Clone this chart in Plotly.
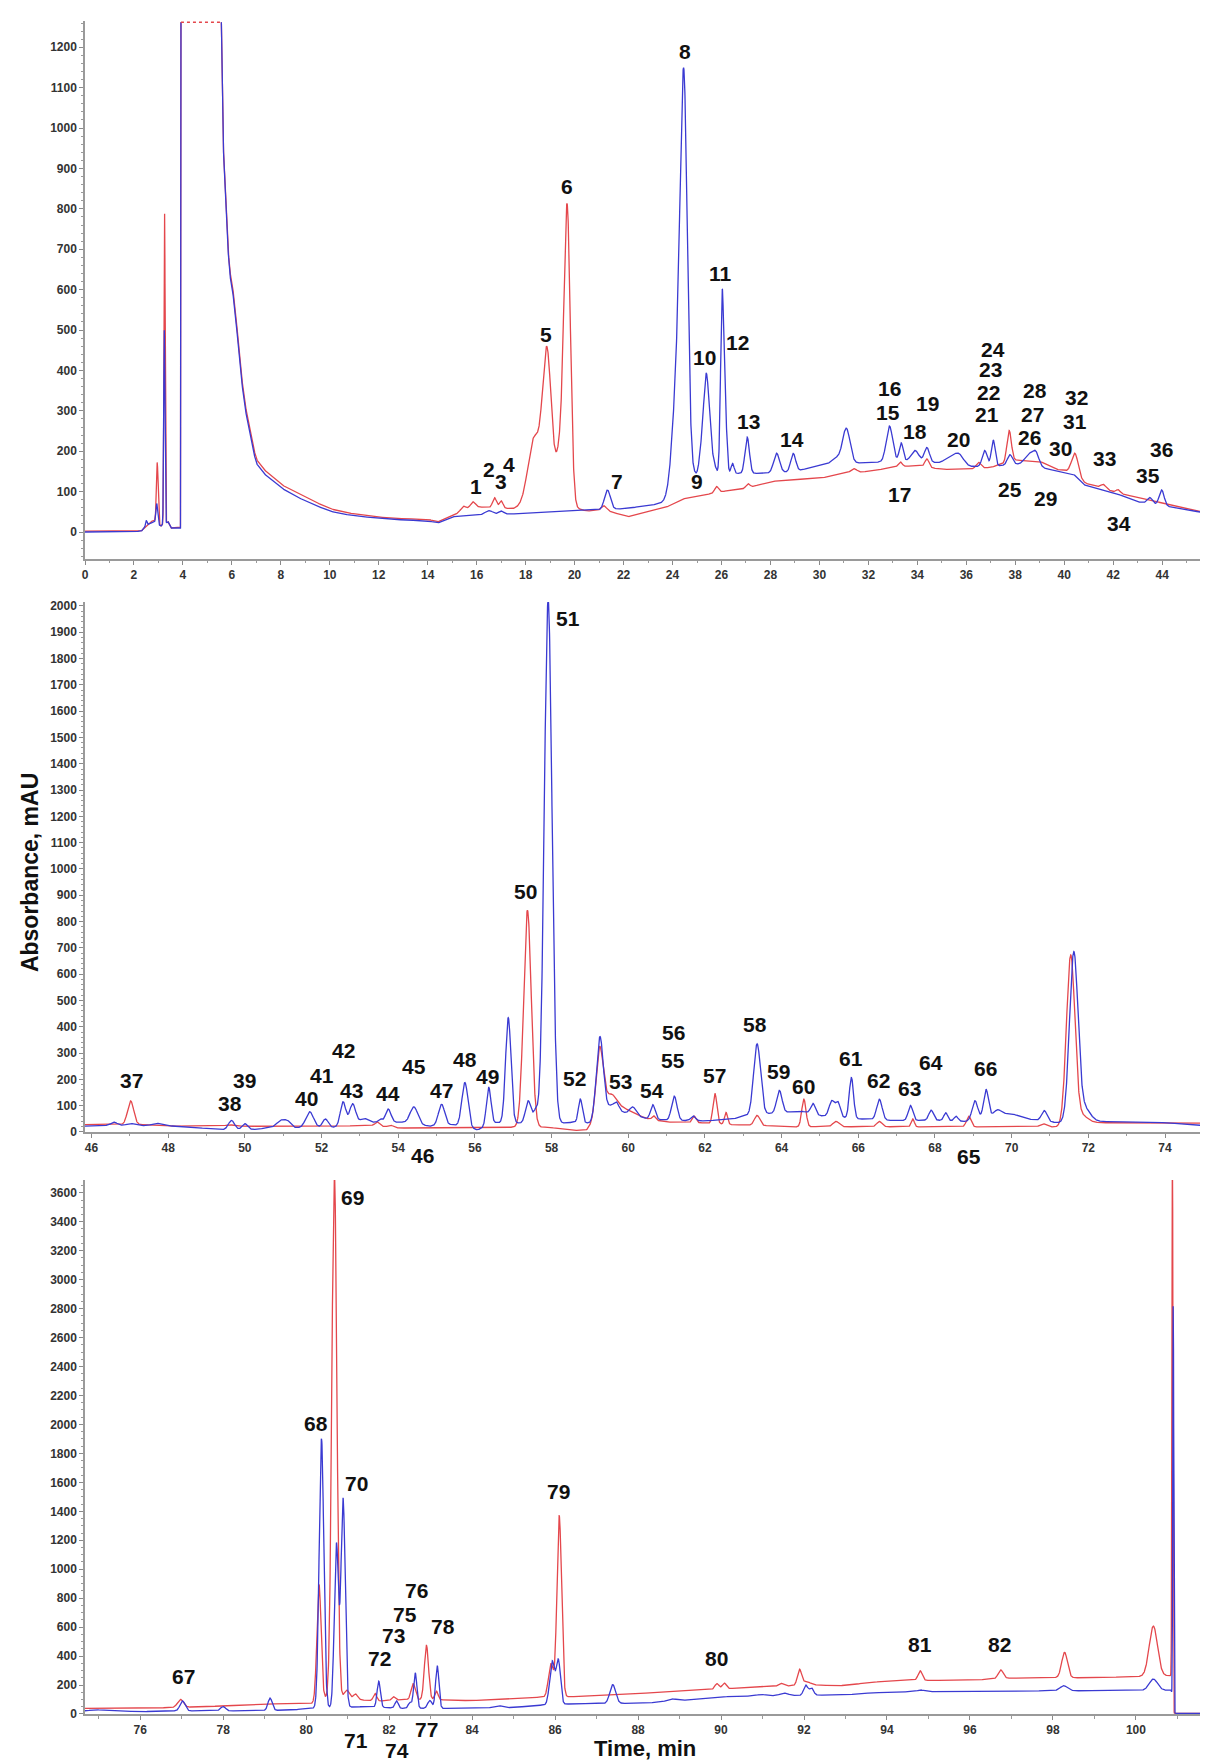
import numpy as np
import plotly.graph_objects as go

RED = "#e4474c"
BLUE = "#3a3ad2"
FONT = "Liberation Sans"

# ---------------- Panel 1 (0-46 min) ----------------
BLUE_BASE_1 = [(0, 0), (2.3, 2), (2.6, 20), (2.8, 25), (3.1, 15), (3.4, 25), (3.5, 10), (3.9, 10),
               (3.92, 1262), (5.57, 1262), (5.62, 1000), (5.75, 800), (5.9, 640), (6.0, 610), (6.15, 540),
               (6.3, 430), (6.5, 320), (6.8, 220), (7.0, 170), (7.3, 145), (7.7, 125), (8.0, 110),
               (8.5, 92), (9.0, 77), (9.5, 64), (10.0, 52), (10.5, 45), (11, 40), (12, 34), (13, 30),
               (14, 28), (14.4, 22), (15, 38), (16, 42), (17.5, 45), (19, 50), (20, 52), (21, 55),
               (22, 58), (23, 65), (23.6, 72), (24.0, 80), (24.9, 140), (26.5, 145), (27.5, 145),
               (28, 146), (29, 150), (30, 165), (31, 170), (32, 172), (33, 175), (34, 177), (35, 170),
               (36, 162), (37, 162), (38, 168), (39, 160), (40, 148), (40.4, 142), (40.8, 117),
               (41.3, 108), (42, 98), (43, 75), (44, 66), (45, 55), (46.3, 42)]
BLUE_PEAKS_1 = [(2.5, 15, 0.03), (2.93, 50, 0.035), (3.24, 480, 0.025), (16.5, 10, 0.15), (17.0, 8, 0.1),
                (21.34, 48, 0.12), (24.25, 330, 0.22), (24.47, 830, 0.14), (25.15, 35, 0.08),
                (25.38, 250, 0.12), (25.65, 30, 0.1), (26.03, 450, 0.065), (26.17, 120, 0.06),
                (26.45, 25, 0.06), (27.05, 90, 0.09), (28.25, 48, 0.12), (28.93, 45, 0.1),
                (30.7, 15, 0.2), (31.1, 85, 0.15), (32.86, 88, 0.13), (33.34, 45, 0.08),
                (33.9, 25, 0.15), (34.39, 35, 0.1), (35.3, 15, 0.2), (35.69, 28, 0.2),
                (36.75, 40, 0.1), (37.1, 65, 0.08), (37.78, 25, 0.1), (38.6, 30, 0.2),
                (38.85, 25, 0.12), (43.5, 15, 0.1), (43.98, 38, 0.1)]
RED_BASE_1 = [(0, 2), (2.3, 3), (2.6, 20), (2.8, 30), (3.1, 15), (3.4, 25), (3.5, 10), (3.9, 12),
              (3.92, 1262), (5.57, 1262), (5.62, 1000), (5.75, 810), (5.9, 650), (6.0, 620), (6.15, 550),
              (6.3, 440), (6.5, 330), (6.8, 230), (7.0, 180), (7.3, 155), (7.7, 135), (8.0, 118),
              (8.5, 102), (9.0, 87), (9.5, 72), (10, 58), (10.5, 50), (11, 45), (12, 37), (13, 33),
              (14, 32), (14.4, 25), (15, 40), (15.5, 55), (16, 62), (17.5, 58), (18.0, 66), (19.0, 68),
              (20.0, 60), (20.5, 52), (21.2, 55), (22.2, 38), (23.0, 50), (23.7, 60), (24.4, 82),
              (25, 88), (26, 100), (27, 108), (28, 125), (29, 130), (30, 133), (31, 145), (32, 150),
              (33, 160), (34, 165), (35, 155), (36, 155), (37, 160), (38, 178), (39, 175),
              (39.7, 155), (40.2, 150), (40.9, 120), (41.5, 110), (42, 100), (43, 85), (44, 72),
              (45, 58), (46.3, 42)]
RED_PEAKS_1 = [(2.95, 150, 0.035), (3.25, 770, 0.025), (15.45, 10, 0.1), (15.84, 15, 0.1),
               (16.73, 25, 0.08), (17.0, 18, 0.07), (18.35, 165, 0.25), (18.87, 370, 0.18),
               (19.45, 150, 0.2), (19.7, 680, 0.13), (21.2, 10, 0.1), (25.8, 15, 0.08),
               (27.08, 10, 0.08), (31.4, 10, 0.12), (33.3, 12, 0.08), (34.39, 20, 0.08),
               (36.5, 15, 0.1), (37.75, 78, 0.09), (40.44, 55, 0.13), (41.6, 10, 0.1), (42.2, 8, 0.08)]
SOLVENT_START, SOLVENT_END, SATURATION = 3.92, 5.57, 1262
LABELS_1 = [("1", 15.97, 113), ("2", 16.49, 154), ("3", 16.99, 125), ("4", 17.33, 167), ("5", 18.83, 488),
            ("6", 19.67, 856), ("7", 21.72, 125), ("8", 24.5, 1190), ("9", 25.01, 125), ("10", 25.31, 432),
            ("11", 25.96, 639), ("12", 26.64, 468), ("13", 27.09, 274), ("14", 28.89, 229),
            ("15", 32.79, 297), ("16", 32.86, 356), ("17", 33.28, 94), ("18", 33.92, 248),
            ("19", 34.42, 319), ("20", 35.7, 228), ("21", 36.84, 290), ("22", 36.91, 346),
            ("23", 36.98, 402), ("24", 37.08, 453), ("25", 37.79, 105), ("26", 38.58, 233),
            ("27", 38.72, 292), ("28", 38.81, 350), ("29", 39.22, 84), ("30", 39.83, 208),
            ("31", 40.44, 274), ("32", 40.51, 332), ("33", 41.65, 182), ("34", 42.24, 20),
            ("35", 43.43, 140), ("36", 43.98, 204)]

# ---------------- Panel 2 (46-75 min) ----------------
BLUE_BASE_2 = [(45.8, 22), (46.5, 25), (48.4, 22), (49.3, 8), (50.3, 10), (50.8, 20), (51.3, 16),
               (52.3, 18), (53.4, 37), (54.1, 37), (54.8, 22), (55.4, 28), (56.07, 8), (56.55, 35),
               (57.1, 34), (58.1, 32), (58.7, 38), (59.0, 33), (59.4, 60), (59.7, 80), (60.0, 70),
               (60.5, 50), (61.0, 45), (62.0, 42), (62.7, 48), (63.0, 60), (63.7, 70), (64.5, 80),
               (65.0, 62), (66.0, 50), (67.0, 43), (68.0, 45), (68.8, 40), (69.6, 70), (70.0, 70),
               (70.4, 50), (71.2, 35), (72.2, 40), (74, 35), (75.4, 20)]
BLUE_PEAKS_2 = [(46.59, 12, 0.08), (47.02, 8, 0.1), (47.7, 10, 0.12), (49.65, 35, 0.08), (50.0, 22, 0.07),
                (50.95, 25, 0.1), (51.12, 20, 0.08), (51.69, 60, 0.1), (52.1, 32, 0.07),
                (52.56, 92, 0.07), (52.81, 80, 0.08), (53.1, 20, 0.1), (53.53, 12, 0.05),
                (53.74, 50, 0.07), (54.41, 65, 0.1), (55.13, 80, 0.08), (55.74, 170, 0.08),
                (56.36, 145, 0.06), (56.87, 400, 0.07), (57.39, 85, 0.07), (57.58, 45, 0.06),
                (57.91, 1990, 0.1), (58.75, 88, 0.05), (59.26, 310, 0.09), (59.55, 30, 0.12),
                (59.7, 20, 0.06), (60.12, 30, 0.08), (60.64, 55, 0.06), (61.2, 92, 0.07),
                (61.69, 18, 0.06), (63.36, 270, 0.09), (63.94, 85, 0.07), (64.82, 40, 0.06),
                (65.31, 60, 0.07), (65.47, 55, 0.06), (65.82, 155, 0.055), (66.55, 78, 0.07),
                (67.36, 57, 0.06), (67.9, 38, 0.06), (68.28, 30, 0.05), (68.55, 18, 0.05),
                (69.04, 70, 0.07), (69.33, 103, 0.06), (69.64, 15, 0.08), (70.85, 40, 0.07),
                (71.62, 640, 0.11), (71.9, 50, 0.15)]
RED_BASE_2 = [(45.8, 28), (47.3, 28), (48, 22), (50, 22), (52, 20), (53.3, 25), (54, 15), (56, 15),
              (57, 18), (57.9, 18), (58.5, 6), (58.9, 6), (59.05, 30), (59.4, 90), (59.6, 110),
              (59.9, 90), (60.45, 52), (61, 38), (62, 34), (62.7, 28), (63.6, 24), (64.3, 19),
              (64.8, 20), (71.2, 19), (72.2, 35), (73, 35), (75.4, 33)]
RED_PEAKS_2 = [(47.02, 90, 0.08), (49.6, 5, 0.1), (53.46, 15, 0.06), (53.8, 8, 0.06), (57.37, 825, 0.1),
               (59.25, 250, 0.09), (59.5, 40, 0.15), (60.66, 15, 0.04), (61.72, 25, 0.05),
               (62.26, 115, 0.05), (62.55, 45, 0.04), (63.36, 38, 0.07), (64.58, 105, 0.055),
               (65.42, 20, 0.08), (66.55, 20, 0.07), (67.42, 30, 0.04), (68.88, 40, 0.06),
               (70.82, 12, 0.08), (71.54, 645, 0.11), (71.85, 30, 0.15)]
LABELS_2 = [("37", 47.03, 197), ("38", 49.62, 108), ("39", 49.98, 197), ("40", 51.61, 127), ("41", 52.02, 214),
            ("42", 52.56, 311), ("43", 52.79, 159), ("44", 53.74, 146), ("45", 54.41, 248),
            ("46", 54.64, -90), ("47", 55.13, 159), ("48", 55.74, 276), ("49", 56.34, 212),
            ("50", 57.32, 913), ("51", 58.43, 1952), ("52", 58.61, 205), ("53", 59.8, 191),
            ("54", 60.63, 156), ("55", 61.17, 272), ("56", 61.17, 379), ("57", 62.25, 214),
            ("58", 63.31, 409), ("59", 63.93, 231), ("60", 64.58, 172), ("61", 65.82, 281),
            ("62", 66.52, 195), ("63", 67.33, 165), ("64", 67.9, 263), ("65", 68.88, -94),
            ("66", 69.33, 242)]

# ---------------- Panel 3 (75-102 min) ----------------
BLUE_BASE_3 = [(74.6, 20), (74.92, 30), (75.14, 25), (76.06, 16), (76.6, 22), (77.3, 22), (78.5, 21),
               (79.65, 28), (80.13, 39), (81.3, 50), (81.5, 50), (82.1, 42), (82.3, 39), (83.3, 39),
               (84, 40), (85, 45), (85.6, 60), (86.4, 70), (87.7, 74), (88.1, 74), (89.68, 108),
               (90.16, 120), (91.0, 125), (91.8, 128), (92.4, 131), (92.9, 131), (93.7, 147),
               (94.5, 154), (96, 155), (97, 159), (98, 160), (99, 161), (100, 162), (100.85, 165),
               (100.92, 5), (102, 5)]
BLUE_PEAKS_3 = [(77.02, 68, 0.06), (78.0, 30, 0.06), (79.13, 85, 0.05), (80.37, 1860, 0.055),
                (80.73, 1130, 0.05), (80.89, 1440, 0.05), (81.75, 180, 0.04), (82.18, 50, 0.04),
                (82.5, 40, 0.04), (82.63, 245, 0.04), (82.98, 55, 0.05), (83.16, 295, 0.04),
                (84.62, 15, 0.1), (85.93, 300, 0.06), (86.08, 300, 0.05), (87.39, 130, 0.07),
                (88.8, 15, 0.1), (90.96, 10, 0.1), (91.52, 18, 0.1), (92.04, 70, 0.05),
                (92.18, 50, 0.05), (94.81, 12, 0.08), (98.26, 35, 0.09), (100.42, 78, 0.1),
                (100.9, 2800, 0.012)]
RED_BASE_3 = [(74.6, 38), (76, 39), (77.6, 51), (79.2, 70), (80.13, 73), (80.45, 110), (81.0, 110),
              (81.4, 95), (81.82, 90), (82.38, 100), (83.3, 97), (84.0, 92), (84.86, 108), (85.6, 115),
              (86.4, 120), (87.3, 131), (88.07, 143), (89.68, 166), (90.3, 177), (91.28, 189),
              (91.76, 196), (92.25, 200), (92.89, 196), (93.85, 224), (94.49, 235), (95, 232),
              (96.1, 235), (96.9, 247), (98.0, 251), (98.8, 250), (99.5, 255), (100.85, 265),
              (100.92, 5), (102, 5)]
RED_PEAKS_3 = [(76.97, 55, 0.07), (80.31, 800, 0.05), (80.68, 3640, 0.06), (80.98, 55, 0.06),
               (81.19, 35, 0.05), (81.66, 50, 0.04), (82.1, 25, 0.04), (82.58, 110, 0.05),
               (82.9, 375, 0.05), (83.14, 60, 0.04), (85.9, 230, 0.06), (86.1, 1250, 0.055),
               (89.9, 40, 0.05), (90.08, 40, 0.05), (91.44, 20, 0.06), (91.89, 105, 0.05),
               (92.05, 25, 0.1), (94.8, 65, 0.05), (96.74, 60, 0.06), (98.28, 175, 0.07),
               (100.42, 345, 0.1), (100.88, 3800, 0.012)]
LABELS_3 = [("67", 77.05, 258), ("68", 80.23, 2007), ("69", 81.11, 3566), ("70", 81.21, 1593),
            ("71", 81.2, -180), ("72", 81.78, 380), ("73", 82.1, 545), ("74", 82.2, -249),
            ("75", 82.38, 690), ("76", 82.66, 856), ("77", 82.9, -104), ("78", 83.3, 603),
            ("79", 86.09, 1538), ("80", 89.9, 385), ("81", 94.8, 481), ("82", 96.7, 481)]

# ---------------- axes setup ----------------
X_RANGES = [[0, 46.2], [45.83, 75.33], [74.67, 101.93]]
Y_RANGES = [[-66, 1265], [0, 2015], [0, 3688]]
Y_DTICK = [100, 100, 200]
Y_MINOR = [20, 20, 50]
DOMAINS = [[0.6824, 1.0], [0.3438, 0.6568], [0.0, 0.3154]]

PANELS = [(BLUE_BASE_1, BLUE_PEAKS_1, RED_BASE_1, RED_PEAKS_1, LABELS_1),
          (BLUE_BASE_2, BLUE_PEAKS_2, RED_BASE_2, RED_PEAKS_2, LABELS_2),
          (BLUE_BASE_3, BLUE_PEAKS_3, RED_BASE_3, RED_PEAKS_3, LABELS_3)]


def signal(t, base, peaks):
    bt = np.array([p[0] for p in base], dtype=float)
    bv = np.array([p[1] for p in base], dtype=float)
    y = np.interp(t, bt, bv)
    for t0, h, s in peaks:
        y = y + h * np.exp(-0.5 * ((t - t0) / s) ** 2)
    return y


fig = go.Figure()
annotations = []
for i, (bb, bp, rb, rp, labels) in enumerate(PANELS):
    n = i + 1
    x0, x1 = X_RANGES[i]
    knots = [p[0] for p in bb] + [p[0] for p in rb]
    t = np.union1d(np.arange(x0 - 0.1, x1 + 0.1, 0.004), np.array(knots, dtype=float))
    t = t[(t >= x0 - 0.1) & (t <= x1 + 0.1)]
    red = signal(t, rb, rp)
    blue = signal(t, bb, bp)
    if n == 1:
        mask = (t > SOLVENT_START + 1e-6) & (t < SOLVENT_END - 1e-6)
        red[mask] = np.nan
        blue[mask] = np.nan
    xa = "x" if n == 1 else f"x{n}"
    ya = "y" if n == 1 else f"y{n}"
    fig.add_trace(go.Scatter(x=t, y=red, mode="lines", line=dict(color=RED, width=1.3),
                             xaxis=xa, yaxis=ya, showlegend=False, hoverinfo="skip"))
    fig.add_trace(go.Scatter(x=t, y=blue, mode="lines", line=dict(color=BLUE, width=1.3),
                             xaxis=xa, yaxis=ya, showlegend=False, hoverinfo="skip"))
    if n == 1:
        fig.add_trace(go.Scatter(x=[SOLVENT_START, SOLVENT_END], y=[SATURATION, SATURATION], mode="lines",
                                 line=dict(color=RED, width=1.5, dash="dot"),
                                 xaxis=xa, yaxis=ya, showlegend=False, hoverinfo="skip"))
    d0, d1 = DOMAINS[i]
    r0, r1 = Y_RANGES[i]
    for txt, lx, ly in labels:
        py = d0 + (ly - r0) / (r1 - r0) * (d1 - d0)
        annotations.append(dict(text=txt, x=lx, y=py, xref=xa, yref="paper", showarrow=False,
                                xanchor="center", yanchor="middle",
                                font=dict(family=FONT, size=21, color="#111", weight="bold")))

    axis_common = dict(showline=True, linecolor="#9a9a9a", ticks="outside", tickcolor="#8a8a8a",
                       ticklen=4, showgrid=False, zeroline=False,
                       tickfont=dict(family=FONT, size=12, color="#333", weight="bold"))
    xkey = "xaxis" if n == 1 else f"xaxis{n}"
    ykey = "yaxis" if n == 1 else f"yaxis{n}"
    fig.layout[xkey] = dict(axis_common, domain=[0, 1], anchor=ya, range=X_RANGES[i],
                            tick0=0, dtick=2, linewidth=2,
                            minor=dict(dtick=1, ticks="outside", ticklen=2.5, tickcolor="#9a9a9a"))
    fig.layout[ykey] = dict(axis_common, domain=DOMAINS[i], anchor=xa, range=Y_RANGES[i],
                            tick0=0, dtick=Y_DTICK[i], linewidth=1.5,
                            minor=dict(dtick=Y_MINOR[i], ticks="outside", ticklen=2, tickcolor="#9a9a9a"))

annotations.append(dict(text="Absorbance, mAU", x=-0.0486, y=0.4967, xref="paper", yref="paper",
                        showarrow=False, textangle=-90, xanchor="center", yanchor="middle",
                        font=dict(family=FONT, size=23, color="#111", weight="bold")))
annotations.append(dict(text="Time, min", x=0.495, y=-0.0205, xref="paper", yref="paper",
                        showarrow=False, xanchor="center", yanchor="middle",
                        font=dict(family=FONT, size=22, color="#111", weight="bold")))

fig.update_layout(width=1208, height=1763, margin=dict(l=77, r=0, t=13, b=57),
                  plot_bgcolor="white", paper_bgcolor="white", annotations=annotations,
                  showlegend=False)
fig.write_html("out.html")
